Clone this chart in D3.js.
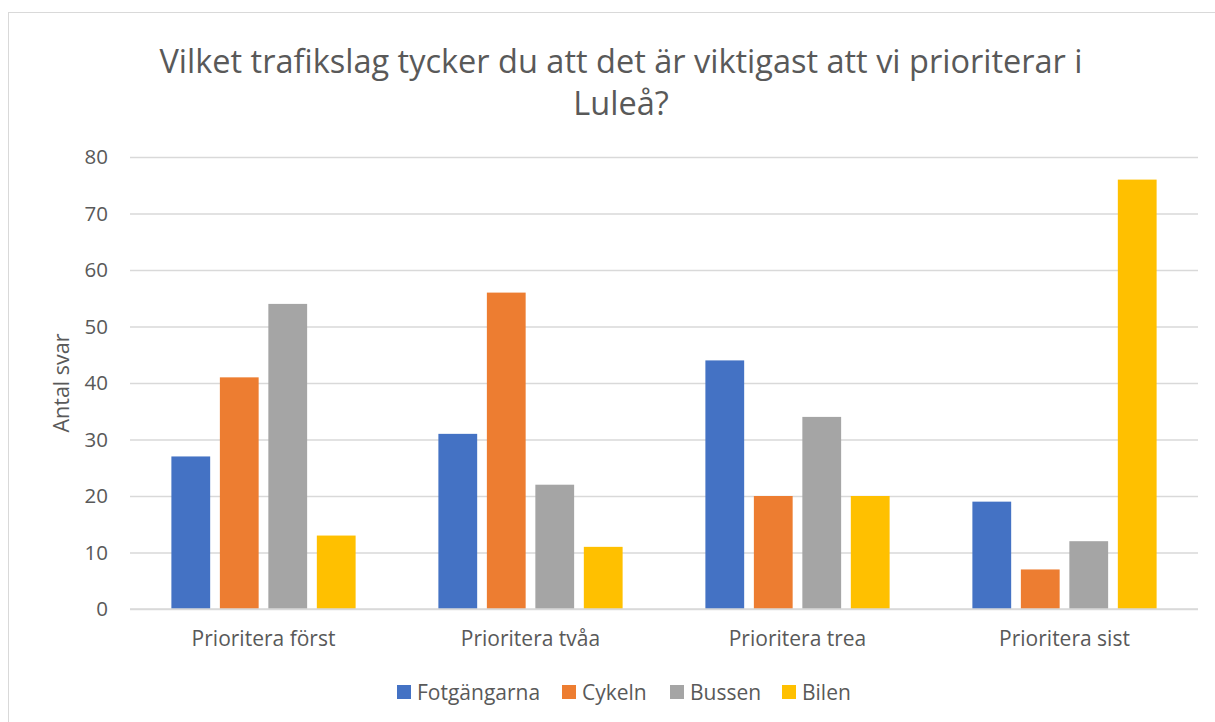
<!DOCTYPE html>
<html>
<head>
<meta charset="utf-8">
<script src="https://cdn.jsdelivr.net/npm/d3@7.9.0/dist/d3.min.js"></script>
<style>
    body { margin: 0; background: #fff; }
    svg { display: block; font-family: "Open Sans", sans-serif; }
</style>
</head>
<body>
<svg id="chart" width="1215" height="722"></svg>
<script>
// Data
const categories = ['Prioritera först', 'Prioritera tvåa', 'Prioritera trea', 'Prioritera sist'];
const seriesNames = ['Fotgängarna', 'Cykeln', 'Bussen', 'Bilen'];
const fotgangarna = [27, 31, 44, 19];
const cykeln = [41, 56, 20, 7];
const bussen = [54, 22, 34, 12];
const bilen = [13, 11, 20, 76];
const yTicks = [0, 10, 20, 30, 40, 50, 60, 70, 80];
const colors = ['#4472C4', '#ED7D31', '#A5A5A5', '#FFC000'];

const seriesValues = [fotgangarna, cykeln, bussen, bilen];

const svg = d3.select('#chart');
const textColor = '#595959';
const font = '"Open Sans", sans-serif';

// Outer frame
svg.append('rect')
    .attr('x', 8.5).attr('y', 12.5)
    .attr('width', 1230).attr('height', 730)
    .attr('fill', 'none')
    .attr('stroke', '#D9D9D9');

const plot = { left: 130, right: 1198, top: 157, bottom: 609 };

let y = d3.scaleLinear().domain([0, 80]).range([plot.bottom, plot.top]);
let x0 = d3.scaleBand().domain(categories).range([plot.left, plot.right])
    .paddingInner(0.31).paddingOuter(0.155);
let x1 = d3.scaleBand().domain(seriesNames).range([0, x0.bandwidth()]).paddingInner(0.2);
let color = d3.scaleOrdinal().domain(seriesNames).range(colors);

// Gridlines and y labels
let yAxis = d3.axisLeft(y).tickValues(yTicks).tickSize(-(plot.right - plot.left)).tickPadding(22);
let gy = svg.append('g').attr('transform', `translate(${plot.left},0)`).call(yAxis);
gy.select('.domain').remove();
gy.selectAll('line').attr('stroke', '#D9D9D9').attr('stroke-width', 1.3);
gy.selectAll('text').attr('fill', textColor).attr('font-size', 20.5).attr('font-family', font);

// Bars
categories.forEach((cat, ci) => {
    seriesNames.forEach((s, si) => {
        let v = seriesValues[si][ci];
        svg.append('rect')
            .attr('x', x0(cat) + x1(s))
            .attr('y', y(v))
            .attr('width', x1.bandwidth())
            .attr('height', y(0) - y(v))
            .attr('fill', color(s));
    });
});

// Baseline
svg.append('line')
    .attr('x1', plot.left).attr('x2', plot.right)
    .attr('y1', y(0)).attr('y2', y(0))
    .attr('stroke', '#D9D9D9').attr('stroke-width', 1.3);

// Category labels
let xAxis = d3.axisBottom(x0).tickSize(0).tickPadding(22);
let gx = svg.append('g').attr('transform', `translate(0,${plot.bottom})`).call(xAxis);
gx.select('.domain').remove();
gx.selectAll('text').attr('fill', textColor).attr('font-size', 21).attr('font-family', font);

// Title
const titleLines = ['Vilket trafikslag tycker du att det är viktigast att vi prioriterar i', 'Luleå?'];
titleLines.forEach((t, i) => {
    svg.append('text')
        .attr('x', 621).attr('y', 73 + i * 42)
        .attr('text-anchor', 'middle')
        .attr('fill', textColor)
        .attr('font-size', 32.5)
        .text(t);
});

// Y axis title
svg.append('text')
    .attr('transform', `translate(69,${(plot.top + plot.bottom) / 2}) rotate(-90)`)
    .attr('text-anchor', 'middle')
    .attr('fill', textColor)
    .attr('font-size', 21.5)
    .text('Antal svar');

// Legend
const legendX = [397, 562, 670, 782];
seriesNames.forEach((s, i) => {
    let g = svg.append('g').attr('transform', `translate(${legendX[i]},685)`);
    g.append('rect').attr('width', 14).attr('height', 14).attr('fill', color(s));
    g.append('text')
        .attr('x', 20).attr('y', 14.5)
        .attr('fill', textColor)
        .attr('font-size', 21)
        .text(s);
});
</script>
</body>
</html>
